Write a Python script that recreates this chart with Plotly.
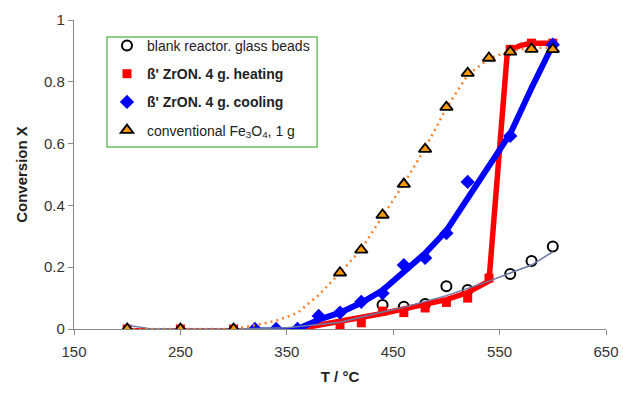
import plotly.graph_objects as go

# ---------------- data ----------------
# blank reactor, glass beads
T_blank = [440, 460, 480, 500, 520, 560, 580, 600]
X_blank = [0.078, 0.072, 0.081, 0.138, 0.126, 0.178, 0.22, 0.267]
# thin trend line through the blank data
T_blank_fit = [200, 220, 250, 300, 350, 400, 440, 460, 500, 540, 580, 600]
X_blank_fit = [0.012, 0.002, 0.0, 0.0, 0.004, 0.022, 0.055, 0.07, 0.108, 0.155, 0.207, 0.25]

# beta' ZrON, 4 g, heating
T_heat = [200, 250, 300, 400, 420, 440, 460, 480, 500, 520, 540, 560, 580, 600]
X_heat = [0, 0, 0, 0.005, 0.02, 0.058, 0.053, 0.068, 0.086, 0.10, 0.165, 0.905, 0.925, 0.925]
T_heat_low = [200, 250, 300, 360]
X_heat_low = [0, 0, 0, 0]
T_heat_fit = [360, 380, 400, 420, 440, 460, 480, 500, 520, 540, 557, 562, 570, 580, 600]
X_heat_fit = [0.0, 0.012, 0.022, 0.035, 0.05, 0.065, 0.08, 0.095, 0.118, 0.155, 0.885, 0.905, 0.918, 0.925, 0.925]

# beta' ZrON, 4 g, cooling
T_cool = [320, 340, 360, 380, 400, 420, 440, 460, 480, 500, 520, 560, 600]
X_cool = [0, 0, 0, 0.042, 0.053, 0.088, 0.116, 0.207, 0.23, 0.31, 0.476, 0.625, 0.92]
T_cool_low = [320, 340, 360]
X_cool_low = [0, 0, 0]
T_cool_fit = [360, 370, 380, 400, 420, 440, 460, 480, 500, 520, 540, 560, 580, 600]
X_cool_fit = [0, 0.016, 0.03, 0.053, 0.085, 0.125, 0.185, 0.245, 0.318, 0.425, 0.525, 0.632, 0.78, 0.92]

# conventional Fe3O4, 1 g
T_fe = [200, 250, 300, 400, 420, 440, 460, 480, 500, 520, 540, 560, 580, 600]
X_fe = [0, 0, 0, 0.182, 0.256, 0.369, 0.469, 0.582, 0.718, 0.828, 0.877, 0.897, 0.906, 0.905]
T_fe_fit = [200, 250, 300, 320, 340, 360, 380, 400, 420, 440, 460, 480, 500, 520, 540, 560, 580, 600]
X_fe_fit = [0, 0, 0, 0.012, 0.027, 0.052, 0.11, 0.182, 0.258, 0.365, 0.47, 0.585, 0.715, 0.822, 0.875, 0.9, 0.91, 0.91]

x_ticks = [150, 250, 350, 450, 550, 650]
y_ticks = [0, 0.2, 0.4, 0.6, 0.8, 1]
y_tick_text = ["0", "0.2", "0.4", "0.6", "0.8", "1"]

names = ["blank reactor. glass beads",
         "<b>ß' ZrON. 4 g. heating</b>",
         "<b>ß' ZrON. 4 g. cooling</b>",
         "conventional Fe<sub>3</sub>O<sub>4</sub>, 1 g"]

RED = "#ff0000"
BLUE = "#0000ff"
ORANGE = "#ff9900"
DOT = "#ff7f27"
SLATE = "#6c78a8"

fig = go.Figure()

# blank circles (bottom)
fig.add_trace(go.Scatter(x=T_blank, y=X_blank, mode="markers", name=names[0],
                         legendgroup="a", legendrank=1,
                         marker=dict(symbol="circle-open", size=10, color="black",
                                     line=dict(width=2, color="black"))))

# heating lines and markers
fig.add_trace(go.Scatter(x=T_heat_low, y=X_heat_low, mode="lines", showlegend=False,
                         line=dict(color=RED, width=2)))
fig.add_trace(go.Scatter(x=T_heat_fit, y=X_heat_fit, mode="lines", showlegend=False,
                         line=dict(color=RED, width=5.5)))
fig.add_trace(go.Scatter(x=T_heat, y=X_heat, mode="markers", name=names[1],
                         legendgroup="b", legendrank=2,
                         marker=dict(symbol="square", size=9, color=RED,
                                     line=dict(width=0))))

# cooling lines and markers
fig.add_trace(go.Scatter(x=T_cool_low, y=X_cool_low, mode="lines", showlegend=False,
                         line=dict(color=BLUE, width=3)))
fig.add_trace(go.Scatter(x=T_cool_fit, y=X_cool_fit, mode="lines", showlegend=False,
                         line=dict(color=BLUE, width=6)))
fig.add_trace(go.Scatter(x=T_cool, y=X_cool, mode="markers", name=names[2],
                         legendgroup="c", legendrank=3,
                         marker=dict(symbol="diamond", size=11, color=BLUE,
                                     line=dict(width=0))))

# blank trend line
fig.add_trace(go.Scatter(x=T_blank_fit, y=X_blank_fit, mode="lines", showlegend=False,
                         line=dict(color=SLATE, width=1.5)))

# Fe3O4 dotted curve and triangles (top)
fig.add_trace(go.Scatter(x=T_fe_fit, y=X_fe_fit, mode="lines", showlegend=False,
                         line=dict(color=DOT, width=2.5, dash="2px,4px")))
fig.add_trace(go.Scatter(x=T_fe, y=X_fe, mode="markers", name=names[3],
                         legendgroup="d", legendrank=4,
                         marker=dict(symbol="triangle-up", size=11, color=ORANGE,
                                     line=dict(width=1.8, color="black"))))

FONT = "Liberation Sans, Arial, sans-serif"

fig.update_layout(
    width=623, height=393,
    margin=dict(l=74, r=17, t=20, b=64),
    paper_bgcolor="white", plot_bgcolor="white",
    font=dict(family=FONT, color="#222222"),
    showlegend=True,
    legend=dict(x=0.062, y=0.968, xanchor="left", yanchor="top",
                bgcolor="rgba(0,0,0,0)", borderwidth=0,
                font=dict(family=FONT, size=14, color="#222222"),
                tracegroupgap=7, traceorder="grouped"),
    shapes=[dict(type="rect", xref="paper", yref="paper",
                 x0=0.062, x1=0.457, y0=0.589, y1=0.945,
                 line=dict(color="#6cbf6c", width=1.5), fillcolor="white", layer="above")],
    xaxis=dict(range=[150, 650], tickvals=x_ticks, ticks="outside", ticklen=5,
               tickcolor="#888888", showline=True, linecolor="#888888", linewidth=1.2,
               showgrid=False, zeroline=False, ticklabelstandoff=4,
               tickfont=dict(family=FONT, size=15, color="#333333"),
               title=dict(text="<b>T / °C</b>", font=dict(family=FONT, size=15, color="#222222"),
                          standoff=12)),
    yaxis=dict(range=[0, 1], tickvals=y_ticks, ticktext=y_tick_text, ticks="outside", ticklen=5,
               tickcolor="#888888", showline=True, linecolor="#888888", linewidth=1.2,
               showgrid=False, zeroline=False,
               tickfont=dict(family=FONT, size=15, color="#333333"),
               title=dict(text="<b>Conversion X</b>", font=dict(family=FONT, size=15, color="#222222"),
                          standoff=12)),
)
fig.update_xaxes(automargin=False)
fig.update_yaxes(automargin=False)

fig.write_html("out.html", config={"displayModeBar": False},
               post_script="document.body.style.margin='0px';")
